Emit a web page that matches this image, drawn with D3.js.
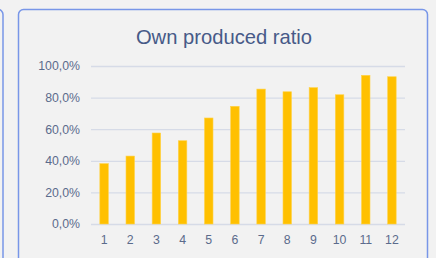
<!DOCTYPE html>
<html><head><meta charset="utf-8">
<script src="https://cdn.jsdelivr.net/npm/d3@7"></script>
<style>html,body{margin:0;padding:0;background:#f2f2f2;overflow:hidden}</style>
</head><body>
<script>
const title = "Own produced ratio";
const categories = ["1","2","3","4","5","6","7","8","9","10","11","12"];
const values = [38.2, 43.0, 57.6, 52.7, 67.1, 74.5, 85.4, 83.7, 86.3, 81.8, 94.1, 93.2];
const yTicks = [0, 20, 40, 60, 80, 100];

const W = 436, H = 258;
const svg = d3.select("body").append("svg").attr("width", W).attr("height", H);
svg.append("rect").attr("width", W).attr("height", H).attr("fill", "#f2f2f2");

// neighbouring panel (cut off on the left)
svg.append("rect").attr("x", -400).attr("y", 9.5).attr("width", 403).attr("height", 300)
  .attr("rx", 5).attr("fill", "none").attr("stroke", "#7896e8").attr("stroke-width", 1.5);
// main panel
svg.append("rect").attr("x", 18.5).attr("y", 9.5).attr("width", 409).attr("height", 300)
  .attr("rx", 5).attr("fill", "#f2f2f2").attr("stroke", "#7896e8").attr("stroke-width", 1.5);

svg.append("text").attr("x", 224).attr("y", 43.5).attr("text-anchor", "middle")
  .attr("font-family", "Liberation Sans, Arial, sans-serif").attr("font-size", 20.2)
  .attr("fill", "#475a88").text(title);

const x = d3.scaleBand().domain(categories).range([91, 405]).paddingInner(0.675).paddingOuter(0.3375);
const y = d3.scaleLinear().domain([0, 100]).range([224, 66]);

const fmt = v => d3.format(".1f")(v).replace(".", ",") + "%";

const gy = svg.append("g").attr("transform", "translate(91,0)")
  .call(d3.axisLeft(y).tickValues(yTicks).tickSize(-314).tickPadding(11).tickFormat(fmt));
gy.select(".domain").remove();
gy.selectAll("line").attr("stroke", "#d6dbe7").attr("stroke-width", 1.3);
gy.selectAll("text").attr("font-family", "Liberation Sans, Arial, sans-serif")
  .attr("font-size", 12.3).attr("fill", "#5b6b8c");

svg.append("g").selectAll("rect").data(values).join("rect")
  .attr("x", (d, i) => x(categories[i]))
  .attr("width", x.bandwidth())
  .attr("y", d => y(d))
  .attr("height", d => y(0) - y(d))
  .attr("fill", "#ffc000").attr("stroke", "#ffd24a").attr("stroke-width", 0.6);

const gx = svg.append("g").attr("transform", "translate(0,224)")
  .call(d3.axisBottom(x).tickSize(0).tickPadding(11));
gx.select(".domain").remove();
gx.selectAll("text").attr("font-family", "Liberation Sans, Arial, sans-serif")
  .attr("font-size", 12.3).attr("fill", "#5b6b8c");
</script>
</body></html>
